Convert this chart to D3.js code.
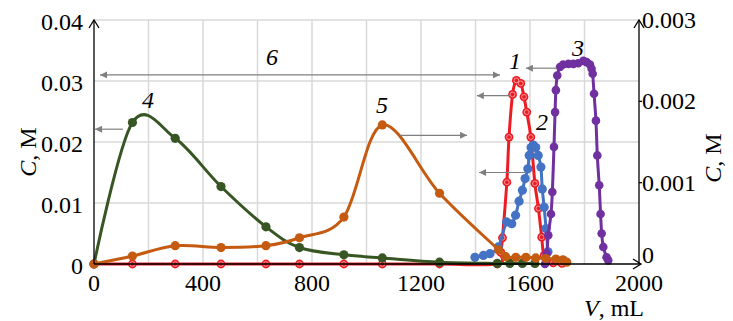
<!DOCTYPE html>
<html>
<head>
<meta charset="utf-8">
<script src="https://cdn.jsdelivr.net/npm/d3@7"></script>
<style>
  body { margin: 0; background: #fff; }
  svg { display: block; }
</style>
</head>
<body>
<svg id="chart" width="733" height="321"></svg>
<script>
// tick values and labels
const xTicks = [0, 400, 800, 1200, 1600, 2000];
const xGrid = [200, 400, 600, 800, 1000, 1200, 1400, 1600, 1800];
const yLeftTicks = [0, 0.01, 0.02, 0.03, 0.04];
const yLeftLabels = ['0', '0.01', '0.02', '0.03', '0.04'];
const yRightTicks = [0, 0.001, 0.002, 0.003];
const yRightLabels = ['0', '0.001', '0.002', '0.003'];

// curve 1 (red)
const vol1 = [0, 141, 298, 466, 631, 754, 917, 1058, 1268, 1480, 1493, 1499, 1515, 1523, 1536, 1550, 1566, 1578, 1588, 1603, 1618, 1631, 1643, 1652, 1685, 1717];
const conc1 = [0, 0, 0, 0, 0, 0, 0, 0, 0, 0, 0.0019, 0.0043, 0.0134, 0.0208, 0.0278, 0.0301, 0.0296, 0.0274, 0.0249, 0.0208, 0.0132, 0.0091, 0.0044, 0.0014, 0.0002, 0.0001];

// curve 2 (blue)
const vol2 = [1398, 1429, 1453, 1484, 1514, 1533, 1547, 1560, 1572, 1582, 1592, 1597, 1604, 1612, 1621, 1630, 1640, 1645, 1652, 1659, 1666];
const conc2 = [0.0011, 0.0014, 0.0017, 0.0028, 0.0069, 0.0066, 0.0080, 0.0103, 0.0121, 0.0140, 0.0156, 0.0178, 0.0191, 0.0195, 0.0191, 0.0178, 0.0159, 0.0123, 0.0093, 0.0058, 0.0020];

// curve 3 (purple)
const vol3 = [1655, 1661, 1667, 1677, 1682, 1688, 1692, 1695, 1700, 1710, 1722, 1741, 1759, 1777, 1796, 1808, 1820, 1826, 1830, 1835, 1842, 1847, 1854, 1859, 1863, 1869, 1881, 1887];
const conc3 = [0, 0.0017, 0.0047, 0.0082, 0.0118, 0.0192, 0.0249, 0.0285, 0.0309, 0.0323, 0.0327, 0.0328, 0.0328, 0.0329, 0.0333, 0.0331, 0.0327, 0.0320, 0.0312, 0.0279, 0.0235, 0.0178, 0.0129, 0.0082, 0.0050, 0.0028, 0.0011, 0.0006];

// curve 4 (green)
const vol4 = [0, 141, 298, 466, 631, 754, 917, 1058, 1268, 1480, 1526, 1572, 1618];
const conc4 = [0, 0.0232, 0.0206, 0.0127, 0.0061, 0.0027, 0.0015, 0.0010, 0.0003, 0.0001, 0.0001, 0.0001, 0.0001];

// curve 5 (orange)
const vol5 = [0, 141, 298, 466, 631, 754, 917, 1058, 1268, 1485, 1511, 1548, 1585, 1621, 1658, 1695, 1721, 1735];
const conc5 = [0, 0.0013, 0.0030, 0.0027, 0.0030, 0.0043, 0.0077, 0.0228, 0.0116, 0.0023, 0.0012, 0.0011, 0.0011, 0.0010, 0.0009, 0.0008, 0.0007, 0.0003];

// number labels and pointer arrows, in data units
const labelText = ['1', '2', '3', '4', '5', '6'];
const labelVol = [1545, 1644, 1776, 198, 1057, 653];
const labelConc = [0.0320, 0.0220, 0.0341, 0.0256, 0.0248, 0.0326];
const arrowFromVol = [1527, 1582, 1699, 106, 1123];
const arrowToVol = [1405, 1413, 1585, 4, 1369];
const arrowConc = [0.0276, 0.0150, 0.0321, 0.0221, 0.0211];
const spanVol = [22, 1490];
const spanConc = 0.0310;

const serif = "'Liberation Serif', 'DejaVu Serif', serif";

const svg = d3.select('#chart');
const x = d3.scaleLinear().domain([0, 2000]).range([94, 639]);
const yL = d3.scaleLinear().domain([0, 0.04]).range([264, 20]);
const yR = d3.scaleLinear().domain([0, 0.003]).range([264, 20]);

svg.append('rect').attr('width', 733).attr('height', 321).attr('fill', '#fff');

const defs = svg.append('defs');
defs.append('marker').attr('id', 'tri').attr('viewBox', '0 0 10 10')
    .attr('refX', 10).attr('refY', 5).attr('markerWidth', 9).attr('markerHeight', 7)
    .attr('markerUnits', 'userSpaceOnUse').attr('orient', 'auto-start-reverse')
  .append('path').attr('d', 'M0,0L10,5L0,10Z').attr('fill', '#7f7f7f');

// grid
svg.append('g').selectAll('line').data(xGrid).enter().append('line')
    .attr('x1', d => x(d)).attr('x2', d => x(d))
    .attr('y1', yL(0)).attr('y2', yL(0.04))
    .attr('stroke', '#d9d9d9').attr('stroke-width', 1.5);
svg.append('g').selectAll('line').data(yLeftTicks.slice(1)).enter().append('line')
    .attr('x1', x(0)).attr('x2', x(2000))
    .attr('y1', d => yL(d)).attr('y2', d => yL(d))
    .attr('stroke', '#d9d9d9').attr('stroke-width', 1.5);

const line = d3.line().curve(d3.curveCatmullRom.alpha(0))
    .x(d => x(d[0])).y(d => yL(d[1]));

const series = [
  { vol: vol1, conc: conc1, color: '#ed1c24', r: 4.4, ring: true },
  { vol: vol2, conc: conc2, color: '#4472c4', r: 4.6 },
  { vol: vol3, conc: conc3, color: '#7030a0', r: 4.3 },
  { vol: vol4, conc: conc4, color: '#375623', r: 4.6 },
  { vol: vol5, conc: conc5, color: '#c55a11', r: 4.6 }
];

series.forEach(s => {
  const pts = s.vol.map((v, i) => [v, s.conc[i]]);
  const g = svg.append('g');
  g.append('path').datum(pts).attr('d', line)
      .attr('fill', 'none').attr('stroke', s.color).attr('stroke-width', 3)
      .attr('stroke-linejoin', 'round');
  g.selectAll('circle.m').data(pts).enter().append('circle').attr('class', 'm')
      .attr('cx', d => x(d[0])).attr('cy', d => yL(d[1])).attr('r', s.r)
      .attr('fill', s.color);
  if (s.ring) {
    g.selectAll('circle.ring').data(pts).enter().append('circle').attr('class', 'ring')
        .attr('cx', d => x(d[0])).attr('cy', d => yL(d[1])).attr('r', 2.4)
        .attr('fill', 'none').attr('stroke', '#f7a3a3').attr('stroke-width', 0.9);
  }
});

// axes
const axisG = svg.append('g').attr('stroke', '#000').attr('stroke-width', 1.3).attr('fill', 'none');
axisG.append('line').attr('x1', x(0)).attr('x2', x(0)).attr('y1', yL(0)).attr('y2', yL(0.04));
axisG.append('path').attr('d', `M${x(0) - 5},${yL(0.04) + 8}L${x(0)},${yL(0.04)}L${x(0) + 5},${yL(0.04) + 8}`);
axisG.append('line').attr('x1', x(2000)).attr('x2', x(2000)).attr('y1', yR(0)).attr('y2', yR(0.003));
axisG.append('path').attr('d', `M${x(2000) - 5},${yR(0.003) + 8}L${x(2000)},${yR(0.003)}L${x(2000) + 5},${yR(0.003) + 8}`);
axisG.append('line').attr('x1', x(0)).attr('x2', x(2000) + 2).attr('y1', yL(0)).attr('y2', yL(0));
axisG.append('path').attr('d', `M${x(2000) - 6},${yL(0) - 5}L${x(2000) + 2},${yL(0)}L${x(2000) - 6},${yL(0) + 5}`);
axisG.selectAll('line.rt').data(yRightTicks.slice(1, 3)).enter().append('line').attr('class', 'rt')
    .attr('x1', x(2000)).attr('x2', x(2000) + 3).attr('y1', d => yR(d)).attr('y2', d => yR(d));

// all text goes into one group with the serif face set on it
const txt = svg.append('g').attr('font-family', serif).style('font-family', serif)
    .attr('font-size', 24).attr('fill', '#000');

// tick labels
txt.append('g').selectAll('text').data(yLeftTicks).enter().append('text')
    .attr('x', 83).attr('y', d => yL(d) + 10).attr('text-anchor', 'end')
    .text((d, i) => yLeftLabels[i]);
txt.append('g').selectAll('text').data(yRightTicks).enter().append('text')
    .attr('x', x(2000) + 3).attr('y', d => Math.min(yR(d) + 8, 263))
    .text((d, i) => yRightLabels[i]);
txt.append('g').selectAll('text').data(xTicks).enter().append('text')
    .attr('x', d => x(d)).attr('y', 291).attr('text-anchor', 'middle')
    .text(d => d);

// axis titles
const tl = txt.append('text').attr('text-anchor', 'middle')
    .attr('transform', 'translate(36,152) rotate(-90)');
tl.append('tspan').attr('font-style', 'italic').text('C');
tl.append('tspan').text(', M');
const tr = txt.append('text').attr('text-anchor', 'middle')
    .attr('transform', 'translate(721,158) rotate(-90)');
tr.append('tspan').attr('font-style', 'italic').text('C');
tr.append('tspan').text(',  M');
const tx = txt.append('text').attr('x', 584).attr('y', 316);
tx.append('tspan').attr('font-style', 'italic').text('V');
tx.append('tspan').text(', mL');

// annotations
svg.append('g').selectAll('line').data(arrowConc).enter().append('line')
    .attr('x1', (d, i) => x(arrowFromVol[i])).attr('x2', (d, i) => x(arrowToVol[i]))
    .attr('y1', d => yL(d)).attr('y2', d => yL(d))
    .attr('stroke', '#7f7f7f').attr('stroke-width', 1.2).attr('marker-end', 'url(#tri)');
svg.append('line')
    .attr('x1', x(spanVol[0])).attr('x2', x(spanVol[1]))
    .attr('y1', yL(spanConc)).attr('y2', yL(spanConc))
    .attr('stroke', '#7f7f7f').attr('stroke-width', 1.2)
    .attr('marker-start', 'url(#tri)').attr('marker-end', 'url(#tri)');
txt.append('g').selectAll('text').data(labelText).enter().append('text')
    .attr('x', (d, i) => x(labelVol[i])).attr('y', (d, i) => yL(labelConc[i]))
    .attr('text-anchor', 'middle').attr('font-style', 'italic')
    .text(d => d);
</script>
</body>
</html>
